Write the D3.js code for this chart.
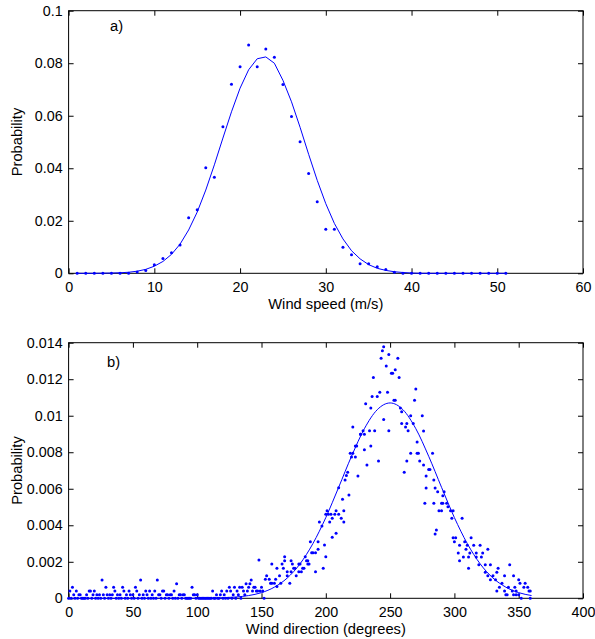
<!DOCTYPE html>
<html lang="en">
  <head>
    <meta charset="UTF-8" />
    <title>Wind speed / wind direction probability</title>
    <script src="https://d3js.org/d3.v7.min.js"></script>
    <style>
      body {
        margin: 0;
        background: #fff;
      }
      svg {
        display: block;
        font-family: "Liberation Sans", Arial, Helvetica, sans-serif;
      }
      .axis text {
        font-size: 14.3px;
        fill: #000;
      }
      .axis line {
        stroke: #000;
      }
      .label {
        font-size: 14.7px;
        fill: #000;
      }
      .frame {
        fill: none;
        stroke: #000;
        stroke-width: 1px;
      }
      .fit {
        fill: none;
        stroke: #0000ff;
        stroke-width: 1px;
      }
      .obs {
        fill: #0000ff;
      }
    </style>
  </head>
  <body>
    <svg id="chart" width="595" height="639"></svg>

    <script>
      // -------------------------------------------------------------------
      // DATA
      // -------------------------------------------------------------------

      // a) wind speed, one bin per m/s (1 .. 51)
      const speedBins = d3.range(1, 52);
      const speedObs = [
        0, 0, 0, 0, 0, 0, 0, 0.0005, 0.0011, 0.0033,
        0.0056, 0.0078, 0.0108, 0.0212, 0.0242, 0.0402, 0.0366, 0.0558, 0.072, 0.0787,
        0.0869, 0.0787, 0.0854, 0.0823, 0.0719, 0.0597, 0.0501, 0.038, 0.0272, 0.0168,
        0.0168, 0.0099, 0.0071, 0.0036, 0.0036, 0.0025, 0.0014, 0.0004, 0, 0,
        0, 0, 0, 0, 0, 0, 0, 0, 0, 0, 0
      ];
      const speedFit = [
        0, 0, 0, 0.00005, 0.0001, 0.0002, 0.0004, 0.0008, 0.0015, 0.0027,
        0.0045, 0.0072, 0.0111, 0.0165, 0.0233, 0.0317, 0.0413, 0.0515, 0.0615, 0.0705,
        0.0775, 0.0817, 0.0824, 0.08, 0.0735, 0.0653, 0.0556, 0.0453, 0.0354, 0.0265,
        0.019, 0.0131, 0.0086, 0.0055, 0.0033, 0.0019, 0.0011, 0.0006, 0.0003, 0.0001,
        0, 0, 0, 0, 0, 0, 0, 0, 0, 0, 0
      ];
      const speedXTicks = [0, 10, 20, 30, 40, 50, 60];
      const speedYTicks = [0, 0.02, 0.04, 0.06, 0.08, 0.1];

      // b) wind direction, one value per degree from 0 to 152
      const dirLow = [
        0, 0.0004, 0, 0.0006, 0.0002, 0, 0.0004, 0, 0.0002, 0.0002,
        0, 0, 0, 0, 0.0002, 0, 0.0004, 0.0004, 0, 0.0002,
        0.0004, 0, 0.0002, 0, 0.0002, 0, 0.001, 0.0002, 0, 0.0006,
        0.0002, 0, 0.0002, 0, 0.0002, 0.0006, 0.0004, 0, 0.0002, 0,
        0.0002, 0, 0.0006, 0.0004, 0, 0.0002, 0, 0.0004, 0.0002, 0,
        0.0002, 0, 0.0006, 0.0004, 0, 0.0002, 0.001, 0, 0.0002, 0,
        0.0004, 0.0002, 0, 0.0004, 0, 0.0002, 0, 0.0004, 0, 0.001,
        0.0002, 0.0002, 0, 0.0004, 0.0004, 0, 0.0002, 0.0002, 0, 0.0002,
        0.0002, 0, 0.0004, 0, 0.0008, 0, 0.0002, 0.0002, 0, 0.0002,
        0.0002, 0, 0, 0, 0, 0, 0.0006, 0.0002, 0.0002, 0,
        0.0002, 0, 0, 0, 0, 0, 0, 0, 0, 0,
        0, 0, 0.0004, 0, 0, 0.0002, 0, 0, 0.0002, 0.0004,
        0, 0.0002, 0, 0.0004, 0, 0.0006, 0.0004, 0, 0.0002, 0.0006,
        0, 0.0004, 0.0002, 0.0006, 0, 0.0006, 0.0004, 0.0002, 0.0008, 0.0004,
        0.0006, 0.0008, 0.001, 0.0004, 0.0006, 0.0006, 0.0004, 0.0004, 0.0021, 0.0004,
        0.0006, 0.0004, 0
      ];

      // b) wind direction, [degree, probability] from 153 to 360
      const dirHigh = [
        [153, 0.00104], [154, 0.00124], [156, 0.00104], [157, 0.00082], [158, 0.00082],
        [158, 0.00188], [160, 0.00082], [161, 0.00104], [162, 0.00064], [162, 0.00164],
        [164, 0.00124], [165, 0.00082], [166, 0.00188], [167, 0.00164], [168, 0.00228],
        [168, 0.00206], [170, 0.00124], [170, 0.00146], [172, 0.00082], [173, 0.00206],
        [173, 0.00146], [174, 0.00188], [175, 0.00164], [176, 0.00164], [177, 0.00124],
        [179, 0.00146], [179, 0.00188], [180, 0.00188], [181, 0.00146], [182, 0.00164],
        [183, 0.00164], [184, 0.00228], [185, 0.00206], [186, 0.00188], [186, 0.00206],
        [187, 0.00188], [188, 0.0031], [189, 0.0025], [190, 0.0025], [192, 0.00146],
        [192, 0.0025], [194, 0.0031], [194, 0.00268], [195, 0.00418], [197, 0.00396],
        [198, 0.00164], [199, 0.00292], [200, 0.00228], [200, 0.0046], [201, 0.0048],
        [202, 0.0046], [203, 0.00418], [204, 0.0046], [205, 0.00334], [205, 0.00438],
        [207, 0.0046], [208, 0.0048], [208, 0.00356], [210, 0.0046], [210, 0.00606],
        [212, 0.00438], [213, 0.00542], [214, 0.00418], [214, 0.0048], [215, 0.00648],
        [216, 0.00672], [217, 0.0069], [218, 0.00566], [219, 0.00794], [220, 0.00774],
        [221, 0.00938], [221, 0.00794], [223, 0.00834], [223, 0.00774], [224, 0.00834],
        [225, 0.0067], [227, 0.00898], [227, 0.00898], [229, 0.00918], [230, 0.00814],
        [230, 0.00898], [231, 0.01066], [232, 0.0073], [234, 0.00918], [235, 0.01042],
        [235, 0.00834], [236, 0.01106], [237, 0.0121], [238, 0.00918], [240, 0.01106],
        [241, 0.00752], [242, 0.01128], [243, 0.01315], [244, 0.01356], [245, 0.01378],
        [245, 0.0098], [247, 0.01272], [248, 0.01128], [249, 0.01336], [249, 0.00918],
        [251, 0.01232], [252, 0.01232], [253, 0.01085], [254, 0.01252], [254, 0.01085],
        [256, 0.01315], [257, 0.0121], [258, 0.01042], [259, 0.00958], [259, 0.01022],
        [261, 0.0069], [262, 0.00938], [263, 0.00958], [263, 0.00752], [264, 0.00918],
        [266, 0.00794], [266, 0.01], [268, 0.00958], [269, 0.01085], [270, 0.01146],
        [271, 0.00856], [271, 0.00794], [272, 0.00794], [273, 0.00752], [275, 0.01],
        [276, 0.00916], [276, 0.0073], [277, 0.0052], [278, 0.00604], [278, 0.0067],
        [280, 0.00706], [281, 0.00706], [283, 0.00794], [284, 0.00648], [284, 0.0052],
        [285, 0.00604], [285, 0.00352], [286, 0.00374], [287, 0.00584], [288, 0.0048],
        [290, 0.0052], [290, 0.0048], [291, 0.0052], [291, 0.00562], [292, 0.00584],
        [294, 0.0052], [295, 0.00502], [297, 0.0048], [298, 0.00438], [299, 0.0048],
        [299, 0.00332], [300, 0.0031], [301, 0.00332], [303, 0.00248], [304, 0.0029],
        [304, 0.00206], [306, 0.00438], [307, 0.00226], [308, 0.0031], [309, 0.00268],
        [310, 0.0029], [311, 0.00164], [311, 0.00226], [312, 0.00248], [313, 0.00332],
        [315, 0.0029], [317, 0.00248], [317, 0.00226], [319, 0.00184], [320, 0.0029],
        [321, 0.00226], [322, 0.00248], [324, 0.00142], [324, 0.00184], [326, 0.00268],
        [326, 0.00124], [328, 0.00102], [328, 0.00184], [330, 0.00124], [332, 0.00102],
        [333, 0.00142], [333, 0.0004], [334, 0.00164], [335, 0.0006], [337, 0.00082],
        [339, 0.0004], [339, 0.00124], [340, 0.0002], [341, 0.0002], [342, 0.0006],
        [343, 0.00184], [345, 0.0004], [346, 0.00124], [346, 0.0002], [347, 0.0006],
        [348, 0.0002], [348, 0.0004], [350, 0.00102], [350, 0.0002], [351, 0.00082],
        [352, 0], [354, 0.0006], [355, 0.00082], [357, 0.0006], [358, 0.0004],
        [359, 0.0004], [359, 0]
      ];

      // b) fitted curve, every 10 degrees from 0 to 360
      const dirFitDeg = d3.range(0, 361, 10);
      const dirFit = [
        0, 0, 0, 0, 0, 0, 0, 0, 0, 0,
        0, 0.00001, 0.00003, 0.00007, 0.00015, 0.00031, 0.00061, 0.00111, 0.00189, 0.003,
        0.00442, 0.00608, 0.00778, 0.00929, 0.01033, 0.0107, 0.01033, 0.00929, 0.00778, 0.00608,
        0.00442, 0.003, 0.00189, 0.00111, 0.00061, 0.00031, 0.00015
      ];
      const dirXTicks = [0, 50, 100, 150, 200, 250, 300, 350, 400];
      const dirYTicks = [0, 0.002, 0.004, 0.006, 0.008, 0.01, 0.012, 0.014];

      // -------------------------------------------------------------------
      // DRAWING
      // -------------------------------------------------------------------
      const svg = d3.select("#chart");
      const tick = 5;

      function drawPanel(p) {
        const x = d3.scaleLinear().domain(p.xDomain).range([p.left, p.right]);
        const y = d3.scaleLinear().domain(p.yDomain).range([p.bottom, p.top]);
        const g = svg.append("g");

        // axes with inward ticks (MATLAB style), plus mirrored ticks on top/right
        g.append("g")
          .attr("class", "axis")
          .attr("transform", `translate(0,${p.bottom})`)
          .call(d3.axisBottom(x).tickValues(p.xTicks).tickSizeInner(-tick).tickSizeOuter(0).tickPadding(9).tickFormat(String));
        g.append("g")
          .attr("class", "axis")
          .attr("transform", `translate(${p.left},0)`)
          .call(d3.axisLeft(y).tickValues(p.yTicks).tickSizeInner(-tick).tickSizeOuter(0).tickPadding(6).tickFormat(String));
        g.append("g")
          .attr("class", "axis")
          .attr("transform", `translate(0,${p.top})`)
          .call(d3.axisTop(x).tickValues(p.xTicks).tickSizeInner(-tick).tickSizeOuter(0).tickFormat(""));
        g.append("g")
          .attr("class", "axis")
          .attr("transform", `translate(${p.right},0)`)
          .call(d3.axisRight(y).tickValues(p.yTicks).tickSizeInner(-tick).tickSizeOuter(0).tickFormat(""));
        g.selectAll(".axis .domain").remove();

        g.append("rect")
          .attr("class", "frame")
          .attr("x", p.left)
          .attr("y", p.top)
          .attr("width", p.right - p.left)
          .attr("height", p.bottom - p.top);

        // labels
        g.append("text")
          .attr("class", "label")
          .attr("x", (p.left + p.right) / 2)
          .attr("y", p.bottom + 36)
          .attr("text-anchor", "middle")
          .text(p.xLabel);
        g.append("text")
          .attr("class", "label")
          .attr("transform", `translate(22,${(p.top + p.bottom) / 2}) rotate(-90)`)
          .attr("text-anchor", "middle")
          .text("Probability");
        g.append("text")
          .attr("class", "label")
          .attr("x", p.tagX)
          .attr("y", p.tagY)
          .text(p.tag);

        // fitted curve
        g.append("path")
          .datum(p.fit)
          .attr("class", "fit")
          .attr("d", d3.line().curve(p.curve).x((d) => x(d[0])).y((d) => y(d[1])));

        // observations
        g.selectAll(".obs")
          .data(p.obs)
          .join("circle")
          .attr("class", "obs")
          .attr("cx", (d) => x(d[0]))
          .attr("cy", (d) => y(d[1]))
          .attr("r", 1.5);
      }

      drawPanel({
        left: 68.6, right: 583, top: 10.7, bottom: 273.3,
        xDomain: [0, 60], yDomain: [0, 0.1],
        xTicks: speedXTicks, yTicks: speedYTicks,
        xLabel: "Wind speed (m/s)",
        tag: "a)", tagX: 110, tagY: 31,
        fit: speedBins.map((v, i) => [v, speedFit[i]]),
        obs: speedBins.map((v, i) => [v, speedObs[i]]),
        curve: d3.curveLinear
      });

      drawPanel({
        left: 68.6, right: 583, top: 342.7, bottom: 598.3,
        xDomain: [0, 400], yDomain: [0, 0.014],
        xTicks: dirXTicks, yTicks: dirYTicks,
        xLabel: "Wind direction (degrees)",
        tag: "b)", tagX: 107, tagY: 367,
        fit: dirFitDeg.map((v, i) => [v, dirFit[i]]),
        obs: dirLow.map((v, i) => [i, v]).concat(dirHigh),
        curve: d3.curveMonotoneX
      });
    </script>
  </body>
</html>
